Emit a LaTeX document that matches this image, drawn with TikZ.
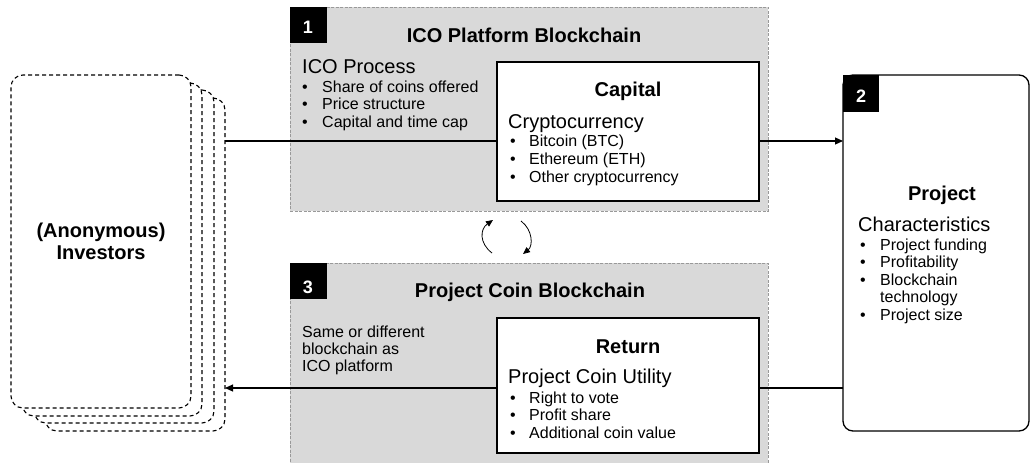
\documentclass[tikz,border=0pt]{standalone}
\usepackage{fontspec}
\setmainfont{Liberation Sans}
\usetikzlibrary{arrows.meta}
\begin{document}
\begin{tikzpicture}[x=1pt,y=-1pt,
  chainbox/.style={draw=black!40, dash pattern=on 3pt off 1.5pt, fill=black!15, line width=0.8pt, inner sep=0, outer sep=0, anchor=north west},
  card/.style={draw, dash pattern=on 4pt off 3pt, fill=white, rounded corners=12pt, line width=1.1pt, minimum width=180pt, minimum height=333pt, inner sep=0, outer sep=0, anchor=north west},
  whitebox/.style={draw, fill=white, line width=1.4pt, inner sep=0, outer sep=0, anchor=north west, minimum width=262pt},
  numbox/.style={fill=black, inner sep=0, outer sep=0, anchor=north west, minimum width=37pt, minimum height=36pt},
  numtxt/.style={text=white, font=\fontsize{18}{18}\selectfont\bfseries, anchor=base, inner sep=0},
  titletxt/.style={font=\fontsize{20}{22}\selectfont\bfseries, anchor=base, inner sep=0},
  subtxt/.style={font=\fontsize{20}{22}\selectfont, anchor=base west, inner sep=0},
  itemtxt/.style={font=\fontsize{16}{17.5}\selectfont, anchor=base west, inner sep=0},
  bultxt/.style={font=\fontsize{16}{17.5}\selectfont, anchor=base, inner sep=0},
  flow/.style={line width=1.1pt, -{Triangle[length=8pt,width=7pt]}},
  cyc/.style={line width=0.8pt, -{Triangle[length=7pt,width=6pt]}},
]
\useasboundingbox (0,0) rectangle (1031,463);

% investors stack
\node[card] (inv4) at (45,98) {};
\node[card] (inv3) at (34,90) {};
\node[card] (inv2) at (22,83) {};
\node[card] (inv1) at (11,75) {};
\node[font=\fontsize{20}{22}\selectfont\bfseries, align=center, inner sep=0] (invtxt) at (101,241) {(Anonymous)\\Investors};

% blockchain areas
\node[chainbox, minimum width=478pt, minimum height=204pt] (ico) at (290,7) {};
\node[chainbox, minimum width=478pt, minimum height=212pt] (pcb) at (290,263) {};

% project
\node[draw, rounded corners=10pt, line width=1.3pt, fill=white, anchor=north west, minimum width=186pt, minimum height=356pt, inner sep=0, outer sep=0] (proj) at (843,75) {};

% flows
\draw[flow] (inv4.east |- 0,141) -- (proj.west |- 0,141);
\draw[flow] (proj.west |- 0,388) -- (inv4.east |- 0,388);

% inner boxes
\node[whitebox, minimum height=139pt] (cap) at (497,62) {};
\node[whitebox, minimum height=135pt] (ret) at (497,318) {};

% number labels
\node[numbox] (n1) at (290,7) {};
\node[numtxt] (n1t) at (308,33) {1};
\node[numbox] (n3) at (290,263) {};
\node[numtxt] (n3t) at (308,293) {3};
\node[numbox, minimum width=36pt, minimum height=37pt] (n2) at (843,75) {};
\node[numtxt] (n2t) at (861,102) {2};

% cycle arrows
\coordinate (l1) at (492,253);
\coordinate (l2) at (493,220);
\draw[cyc] (l1) .. controls (479,243) and (480,229) .. (l2);
\coordinate (r1) at (521,221);
\coordinate (r2) at (523,254);
\draw[cyc] (r1) .. controls (533,230) and (533,246) .. (r2);

% ICO platform texts
\node[titletxt] (icot) at (524,42) {ICO Platform Blockchain};
\node[subtxt] (icop) at (302,73) {ICO Process};
\node[bultxt] (b11) at (305,92) {•};
\node[itemtxt] (i11) at (322,92) {Share of coins offered};
\node[bultxt] (b12) at (305,109.5) {•};
\node[itemtxt] (i12) at (322,109.5) {Price structure};
\node[bultxt] (b13) at (305,127) {•};
\node[itemtxt] (i13) at (322,127) {Capital and time cap};

% capital texts
\node[titletxt] (capt) at (628,96) {Capital};
\node[subtxt] (crypt) at (508,128) {Cryptocurrency};
\node[bultxt] (b21) at (513,146) {•};
\node[itemtxt] (i21) at (529,146) {Bitcoin (BTC)};
\node[bultxt] (b22) at (513,164) {•};
\node[itemtxt] (i22) at (529,164) {Ethereum (ETH)};
\node[bultxt] (b23) at (513,182) {•};
\node[itemtxt] (i23) at (529,182) {Other cryptocurrency};

% project coin blockchain texts
\node[titletxt] (pcbt) at (530,297) {Project Coin Blockchain};
\node[itemtxt] (s1) at (302,337) {Same or different};
\node[itemtxt] (s2) at (302,354) {blockchain as};
\node[itemtxt] (s3) at (302,371) {ICO platform};

% return texts
\node[titletxt] (rett) at (628,353) {Return};
\node[subtxt] (pcu) at (508,383) {Project Coin Utility};
\node[bultxt] (b31) at (513,403) {•};
\node[itemtxt] (i31) at (529,403) {Right to vote};
\node[bultxt] (b32) at (513,420.5) {•};
\node[itemtxt] (i32) at (529,420.5) {Profit share};
\node[bultxt] (b33) at (513,438) {•};
\node[itemtxt] (i33) at (529,438) {Additional coin value};

% project texts
\node[titletxt] (projt) at (942,200) {Project};
\node[subtxt] (chart) at (858,231) {Characteristics};
\node[bultxt] (b41) at (863,250) {•};
\node[itemtxt] (i41) at (880,250) {Project funding};
\node[bultxt] (b42) at (863,267.5) {•};
\node[itemtxt] (i42) at (880,267.5) {Profitability};
\node[bultxt] (b43) at (863,285) {•};
\node[itemtxt] (i43) at (880,285) {Blockchain};
\node[itemtxt] (i44) at (880,302.5) {technology};
\node[bultxt] (b45) at (863,320) {•};
\node[itemtxt] (i45) at (880,320) {Project size};
\end{tikzpicture}
\end{document}
